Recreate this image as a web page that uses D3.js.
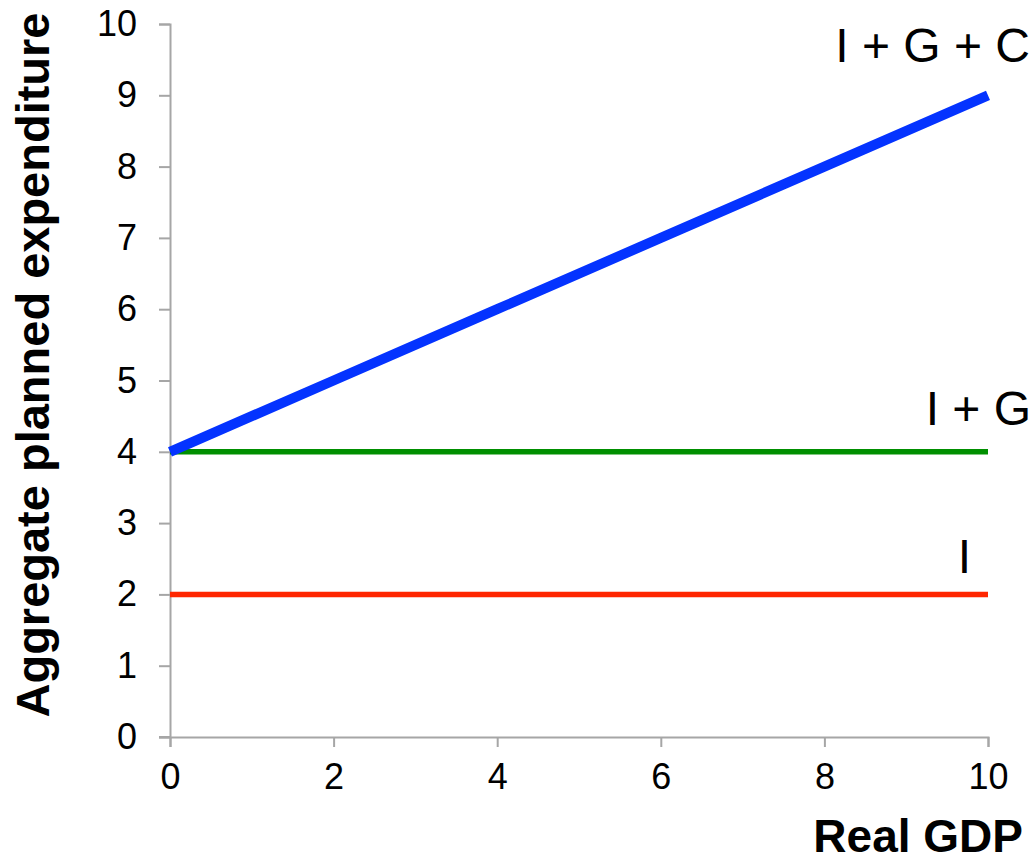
<!DOCTYPE html>
<html><head><meta charset="utf-8">
<script src="https://cdn.jsdelivr.net/npm/d3@7"></script>
<style>body{margin:0;background:#fff}svg{display:block}text{font-family:"Liberation Sans",Arial,sans-serif;fill:#000}</style>
</head><body><svg id="c" width="1033" height="862"></svg>
<script>
const gdp = [0, 2, 4, 6, 8, 10];
const seriesI = [2, 2, 2, 2, 2, 2];
const seriesIG = [4, 4, 4, 4, 4, 4];
const seriesIGC = [4, 5, 6, 7, 8, 9];
const seriesNames = ["I", "I + G", "I + G + C"];
const xTicks = [0, 2, 4, 6, 8, 10];
const yTicks = [0, 1, 2, 3, 4, 5, 6, 7, 8, 9, 10];

const svg = d3.select("#c");
const m = {l:170, r:45, t:24, b:125};
const W = 1033, H = 862;
const x = d3.scaleLinear().domain([0,10]).range([m.l, W-m.r]);
const y = d3.scaleLinear().domain([0,10]).range([H-m.b, m.t]);
const axisColor = "#a6a6a6";

// axes
const gy = svg.append("g").attr("transform",`translate(${m.l},0)`)
  .call(d3.axisLeft(y).tickValues(yTicks).tickSize(11).tickPadding(22).tickFormat(d3.format("d")));
const gx = svg.append("g").attr("transform",`translate(0,${H-m.b})`)
  .call(d3.axisBottom(x).tickValues(xTicks).tickSize(10).tickPadding(16).tickFormat(d3.format("d")));
[gx, gy].forEach(g=>{
  g.select(".domain").attr("stroke",axisColor).attr("stroke-width",2);
  g.selectAll(".tick line").attr("stroke",axisColor).attr("stroke-width",2);
  g.selectAll(".tick text").attr("font-size",36).attr("fill","#000")
    .style("font-family","'Liberation Sans',Arial,sans-serif");
});
// extend x axis line left to match y ticks
svg.append("line").attr("x1",m.l-11).attr("x2",m.l).attr("y1",y(0)).attr("y2",y(0))
  .attr("stroke",axisColor).attr("stroke-width",2);
gx.selectAll(".tick text").attr("dy","0.71em");

const line = d3.line().x((d,i)=>x(gdp[i])).y(d=>y(d));
const series = [
  {vals: seriesI, color:"#FF2600", w:5.5},
  {vals: seriesIG, color:"#008F00", w:5.5},
  {vals: seriesIGC, color:"#0433FF", w:10}
];
series.forEach(s=>{
  svg.append("path").datum(s.vals).attr("d",line).attr("fill","none")
    .attr("stroke",s.color).attr("stroke-width",s.w);
});

// series labels
svg.append("text").attr("x",971).attr("y",573).attr("text-anchor","end").attr("font-size",48).text(seriesNames[0]);
svg.append("text").attr("x",1031).attr("y",425).attr("text-anchor","end").attr("font-size",48).text(seriesNames[1]);
svg.append("text").attr("x",1030).attr("y",62).attr("text-anchor","end").attr("font-size",48).text(seriesNames[2]);

// axis titles
svg.append("text").attr("x",1023).attr("y",852).attr("text-anchor","end")
  .attr("font-size",46).attr("font-weight","bold").text("Real GDP");
svg.append("text").attr("transform","translate(49,365) rotate(-90)").attr("text-anchor","middle")
  .attr("font-size",47).attr("font-weight","bold")
  .attr("textLength",705).attr("lengthAdjust","spacingAndGlyphs")
  .text("Aggregate planned expenditure");
</script></body></html>
